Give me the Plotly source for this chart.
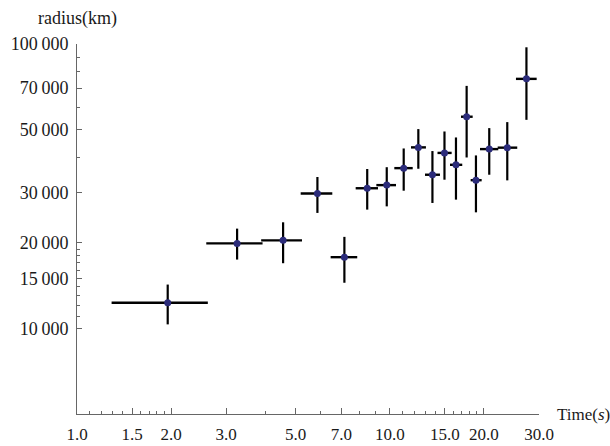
import plotly.graph_objects as go
import math

# Data
time = [1.95, 3.25, 4.56, 5.87, 7.16, 8.47, 9.78, 11.08, 12.34, 13.69, 14.96, 16.28, 17.61, 18.86, 20.80, 23.75, 27.35]
time_lo = [1.29, 2.59, 3.88, 5.19, 6.47, 7.78, 9.06, 10.34, 11.69, 12.96, 14.21, 15.58, 16.89, 18.14, 19.43, 22.13, 25.32]
time_hi = [2.62, 3.92, 5.24, 6.55, 7.87, 9.17, 10.47, 11.84, 13.05, 14.47, 15.77, 17.05, 18.41, 19.67, 22.23, 25.56, 29.49]
radius = [12300, 19900, 20400, 29800, 17800, 31100, 31900, 36600, 43300, 34700, 41400, 37600, 55500, 33200, 42700, 43200, 75400]
radius_lo = [10330, 17460, 16950, 25470, 14470, 26160, 26860, 30490, 36420, 27610, 33330, 28360, 39900, 25590, 34700, 33150, 54120]
radius_hi = [14260, 22430, 23610, 34070, 20980, 36350, 36880, 42920, 50210, 42030, 49250, 46920, 71240, 40570, 50610, 53130, 97370]

x_ticks = [1.0, 1.5, 2.0, 3.0, 5.0, 7.0, 10.0, 15.0, 20.0, 30.0]
x_tick_labels = ["1.0", "1.5", "2.0", "3.0", "5.0", "7.0", "10.0", "15.0", "20.0", "30.0"]
x_minor = [1.1, 1.2, 1.3, 1.4, 1.6, 1.7, 1.8, 1.9, 4, 6, 8, 9, 11, 12, 13, 14, 16, 17, 18, 19]
y_ticks = [10000, 15000, 20000, 30000, 50000, 70000, 100000]
y_tick_labels = ["10\u2009000", "15\u2009000", "20\u2009000", "30\u2009000", "50\u2009000", "70\u2009000", "100\u2009000"]
y_minor = [11000, 12000, 13000, 14000, 16000, 17000, 18000, 19000, 40000, 60000, 80000, 90000]

FONT = "Liberation Serif, Times New Roman, serif"
AX = "#666666"
TXT = "#1a1a1a"

fig = go.Figure()
fig.add_trace(go.Scatter(
    x=time, y=radius, mode="markers",
    marker=dict(size=7, color="#2b2b7a"),
    error_x=dict(type="data", symmetric=False,
                 array=[h - c for h, c in zip(time_hi, time)],
                 arrayminus=[c - l for l, c in zip(time_lo, time)],
                 color="black", thickness=2.4, width=0),
    error_y=dict(type="data", symmetric=False,
                 array=[h - c for h, c in zip(radius_hi, radius)],
                 arrayminus=[c - l for l, c in zip(radius_lo, radius)],
                 color="black", thickness=2.2, width=0),
    showlegend=False,
))

fig.update_layout(
    width=610, height=446,
    margin=dict(l=77, r=71, t=44, b=32, autoexpand=False),
    paper_bgcolor="white", plot_bgcolor="white",
    font=dict(family=FONT, size=17, color=TXT),
    xaxis=dict(type="log", range=[0, math.log10(30)], automargin=False,
               tickvals=x_ticks, ticktext=x_tick_labels,
               tickfont=dict(family=FONT, size=17, color=TXT),
               ticks="inside", ticklen=6, tickwidth=1, tickcolor=AX,
               showline=True, linecolor=AX, linewidth=1,
               showgrid=False, zeroline=False, ticklabelstandoff=5,
               minor=dict(tickvals=x_minor, ticks="inside", ticklen=3,
                          tickcolor=AX, tickwidth=1, showgrid=False)),
    yaxis=dict(type="log", range=[math.log10(5000), 5], automargin=False,
               tickvals=y_ticks, ticktext=y_tick_labels,
               tickfont=dict(family=FONT, size=18, color=TXT),
               ticks="inside", ticklen=5, tickwidth=1, tickcolor=AX,
               showline=True, linecolor=AX, linewidth=1,
               showgrid=False, zeroline=False, ticklabelstandoff=4,
               minor=dict(tickvals=y_minor, ticks="inside", ticklen=3,
                          tickcolor=AX, tickwidth=1, showgrid=False)),
    annotations=[
        dict(text="radius(km)", xref="paper", yref="paper", x=0.0, y=1.0,
             yshift=26, xanchor="center", yanchor="middle", showarrow=False,
             font=dict(family=FONT, size=18, color=TXT)),
        dict(text="Time(<i>s</i>)", xref="paper", yref="paper", x=1.0, y=0.0,
             xshift=16, xanchor="left", yanchor="middle", showarrow=False,
             font=dict(family=FONT, size=17, color=TXT)),
    ],
)

fig.write_html(
    "out.html",
    config={"displayModeBar": False},
    post_script="document.body.style.margin='0';document.body.style.overflow='hidden';",
)
